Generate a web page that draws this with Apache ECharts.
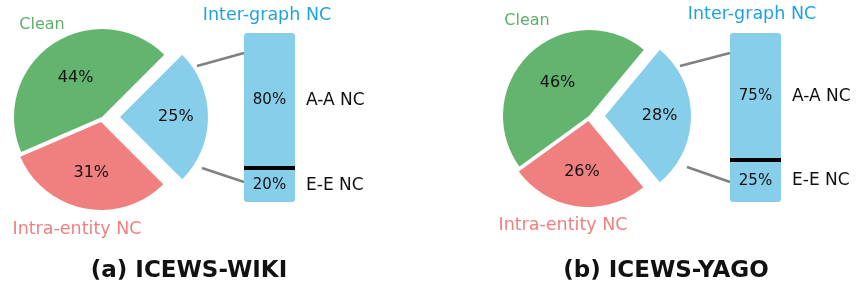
<!DOCTYPE html>
<html>
<head>
<meta charset="utf-8">
<script src="https://cdn.jsdelivr.net/npm/echarts@6/dist/echarts.min.js"></script>
<style>
html,body{margin:0;padding:0;background:#fff;}
#chart{width:864px;height:291px;}
</style>
</head>
<body>
<div id="chart"></div>
<script>
// ---- data ----
const pieNames = ['Inter-graph NC', 'Clean', 'Intra-entity NC'];
const pieA = [25, 44, 31];
const pieB = [28, 46, 26];
const barNames = ['E-E NC', 'A-A NC'];
const barA = [20, 80];
const barB = [25, 75];
const captions = ['(a) ICEWS-WIKI', '(b) ICEWS-YAGO'];

// ---- style ----
const FONT = 'DejaVu Sans';
const pieColors = ['#87ceeb', '#62b46f', '#f08080'];
const nameColors = ['#1fa3de', '#5cb06a', '#f08080'];
const barColor = '#87ceeb';

function pieSeries(vals, center, R, explode, labelFrac) {
  const total = vals.reduce((a, b) => a + b, 0);
  const start = -vals[0] / total * 180;
  const out = [];
  vals.forEach((v, i) => {
    const base = {
      type: 'pie', center: center, startAngle: start, clockwise: false,
      selectedMode: 'multiple', selectedOffset: explode[i],
      avoidLabelOverlap: false, emphasis: { disabled: true },
      labelLine: { show: false }, animation: false
    };
    out.push(Object.assign({}, base, {
      radius: R, z: 2,
      data: vals.map((w, j) => ({
        name: pieNames[j], value: w, selected: j === i,
        itemStyle: { color: j === i ? pieColors[j] : 'rgba(0,0,0,0)' }
      })),
      label: { show: false }
    }));
    out.push(Object.assign({}, base, {
      radius: 2 * labelFrac[i] * R, z: 6, silent: true,
      data: vals.map((w, j) => ({
        name: pieNames[j], value: w, selected: j === i,
        itemStyle: { color: 'rgba(0,0,0,0)' },
        label: { show: j === i }
      })),
      label: { position: 'inside', formatter: '{c}%', fontSize: 16, color: '#111', fontFamily: FONT }
    }));
  });
  return out;
}

function barSeries(vals, gi) {
  const xi = gi * 2;
  const out = [];
  vals.forEach((v, i) => {
    const s = {
      type: 'bar', name: barNames[i], xAxisIndex: xi, yAxisIndex: gi, stack: 's' + gi,
      barWidth: '100%', data: [v], animation: false,
      itemStyle: { color: barColor, borderRadius: i === 0 ? [0, 0, 3, 3] : [3, 3, 0, 0] },
      label: { show: true, position: 'inside', formatter: '{c}%', fontSize: 15, color: '#111', fontFamily: FONT },
      emphasis: { disabled: true }
    };
    if (i === 0) {
      s.markLine = {
        silent: true, symbol: 'none', animation: false, z: 10,
        label: { show: false },
        lineStyle: { color: '#000', width: 4, type: 'solid' },
        data: [{ yAxis: v }]
      };
    }
    out.push(s);
    out.push({
      type: 'bar', name: barNames[i], xAxisIndex: xi + 1, yAxisIndex: gi, stack: 'n' + gi,
      barWidth: '100%', data: [v], silent: true, animation: false,
      itemStyle: { color: 'rgba(0,0,0,0)' },
      label: { show: true, position: 'right', distance: 11, formatter: '{a}', fontSize: 17, color: '#111', fontFamily: FONT },
      emphasis: { disabled: true }
    });
  });
  return out;
}

function txt(text, x, y, color, size, weight) {
  return { type: 'text', x: x, y: y, silent: true, z: 20,
    style: { text: text, fill: color, font: (weight || 'normal') + ' ' + size + 'px "' + FONT + '"', textAlign: 'center', textVerticalAlign: 'middle' } };
}
function line(x1, y1, x2, y2) {
  return { type: 'line', silent: true, z: 1, shape: { x1: x1, y1: y1, x2: x2, y2: y2 }, style: { stroke: '#808080', lineWidth: 2.5 } };
}

const chart = echarts.init(document.getElementById('chart'), null, { renderer: 'canvas' });
const grids = [
  { left: 244, top: 33, width: 51, height: 169 },
  { left: 730, top: 33, width: 51, height: 169 }
];
const xAxes = [];
[0, 1].forEach(g => {
  for (let k = 0; k < 2; k++) xAxes.push({ type: 'category', gridIndex: g, data: ['x'], show: false });
});
const yAxes = [0, 1].map(g => ({ type: 'value', gridIndex: g, min: 0, max: 100, show: false }));

const option = {
  backgroundColor: '#fff',
  animation: false,
  grid: grids,
  xAxis: xAxes,
  yAxis: yAxes,
  series: [].concat(
    pieSeries(pieA, [102, 117], 88, [18, 0, 5], [0.6, 0.5, 0.56]),
    pieSeries(pieB, [589, 116], 86, [16, 0, 5], [0.6, 0.5, 0.56]),
    barSeries(barA, 0),
    barSeries(barB, 1)
  ),
  graphic: [
    txt(pieNames[1], 42, 25, nameColors[1], 16),
    txt(pieNames[2], 77, 229, nameColors[2], 17.5),
    txt(pieNames[0], 267, 15, nameColors[0], 17.5),
    txt(pieNames[1], 527, 21, nameColors[1], 16),
    txt(pieNames[2], 563, 225, nameColors[2], 17.5),
    txt(pieNames[0], 752, 14, nameColors[0], 17.5),
    txt(captions[0], 189, 271, '#111', 23, 'bold'),
    txt(captions[1], 666, 271, '#111', 23, 'bold'),
    line(197, 66, 244, 53),
    line(202, 168, 244, 182),
    line(680, 66, 730, 53),
    line(687, 167, 730, 182)
  ]
};
chart.setOption(option);
</script>
</body>
</html>
